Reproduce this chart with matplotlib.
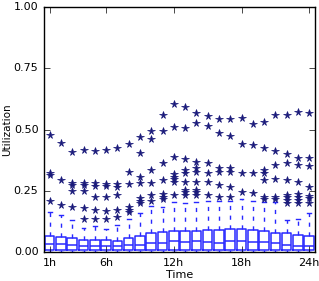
import matplotlib
matplotlib.use("Agg")
import matplotlib.pyplot as plt

plt.style.use("classic")

hours = list(range(1, 25))
tick_hours = [1, 6, 12, 18, 24]
tick_labels = ["1h", "6h", "12h", "18h", "24h"]

q1 = [0.007] * 24
med = [0.034, 0.033, 0.029, 0.026, 0.026, 0.026, 0.026, 0.027, 0.029, 0.035, 0.037, 0.044,
       0.043, 0.047, 0.043, 0.038, 0.045, 0.045, 0.043, 0.040, 0.036, 0.029, 0.024, 0.023]
q3 = [0.065, 0.063, 0.058, 0.049, 0.049, 0.049, 0.047, 0.056, 0.065, 0.079, 0.083, 0.086,
      0.086, 0.087, 0.088, 0.090, 0.094, 0.094, 0.090, 0.086, 0.079, 0.076, 0.070, 0.064]
whis_lo = [0.0] * 24
whis_hi = [0.163, 0.153, 0.132, 0.100, 0.106, 0.094, 0.110, 0.135, 0.158, 0.190, 0.182, 0.205,
           0.200, 0.205, 0.208, 0.208, 0.208, 0.218, 0.208, 0.203, 0.203, 0.131, 0.135, 0.158]
fliers = [
    [0.478, 0.322, 0.316, 0.208],
    [0.444, 0.293, 0.194],
    [0.407, 0.282, 0.274, 0.250, 0.182],
    [0.415, 0.282, 0.274, 0.248, 0.181, 0.134],
    [0.411, 0.280, 0.271, 0.226, 0.170, 0.136],
    [0.415, 0.278, 0.268, 0.226, 0.166, 0.135],
    [0.423, 0.276, 0.265, 0.233, 0.170, 0.143],
    [0.441, 0.326, 0.279, 0.183, 0.173, 0.165],
    [0.468, 0.403, 0.307, 0.280, 0.221, 0.210, 0.200],
    [0.495, 0.460, 0.335, 0.280, 0.232, 0.210],
    [0.559, 0.494, 0.363, 0.296, 0.235, 0.225, 0.215],
    [0.603, 0.512, 0.388, 0.317, 0.307, 0.297, 0.284, 0.233],
    [0.593, 0.505, 0.381, 0.336, 0.321, 0.287, 0.253, 0.244, 0.233],
    [0.566, 0.525, 0.369, 0.342, 0.328, 0.287, 0.253, 0.244, 0.233],
    [0.556, 0.514, 0.362, 0.324, 0.287, 0.233],
    [0.545, 0.484, 0.342, 0.328, 0.273, 0.226],
    [0.543, 0.475, 0.342, 0.328, 0.267, 0.226],
    [0.548, 0.443, 0.321, 0.246],
    [0.521, 0.438, 0.321, 0.240],
    [0.532, 0.423, 0.335, 0.324, 0.294, 0.223, 0.215],
    [0.559, 0.413, 0.355, 0.297, 0.223, 0.215],
    [0.559, 0.402, 0.362, 0.294, 0.233, 0.223, 0.212, 0.201],
    [0.573, 0.382, 0.355, 0.287, 0.237, 0.223, 0.212, 0.199],
    [0.566, 0.383, 0.350, 0.267, 0.229, 0.219, 0.201],
]

stats = []
for i in range(len(hours)):
    stats.append({
        "med": med[i], "q1": q1[i], "q3": q3[i],
        "whislo": whis_lo[i], "whishi": whis_hi[i],
        "fliers": fliers[i],
    })

fig = plt.figure(figsize=(3.19, 2.81), dpi=100, facecolor="white")
ax = fig.add_axes([0.138, 0.103, 0.849, 0.872])

box_color = "#2828ff"
star_color = "#1a1a7a"
ax.bxp(
    stats,
    positions=hours,
    widths=0.85,
    capwidths=0.35,
    boxprops=dict(color=box_color, linewidth=1.1),
    whiskerprops=dict(color=box_color, linewidth=1.0, linestyle="--", dashes=(3, 4)),
    capprops=dict(color=box_color, linewidth=1.0),
    medianprops=dict(color=box_color, linewidth=1.1),
    flierprops=dict(marker="*", markersize=5.5, markeredgewidth=0.5,
                    markerfacecolor=star_color, markeredgecolor=star_color,
                    linestyle="none"),
)

ax.set_xlim(0.5, 24.5)
ax.set_ylim(0, 1)
ax.set_xticks(tick_hours)
ax.set_xticklabels(tick_labels)
ax.set_yticks([0, 0.25, 0.5, 0.75, 1.0])
ax.set_yticklabels(["0.00", "0.25", "0.50", "0.75", "1.00"])
ax.tick_params(labelsize=8, length=4)
ax.set_xlabel("Time", fontsize=8, labelpad=2)
ax.set_ylabel("Utilization", fontsize=7.5)
ax.yaxis.set_label_coords(-0.118, 0.5)

fig.savefig("out.png", dpi=100, facecolor="white")
